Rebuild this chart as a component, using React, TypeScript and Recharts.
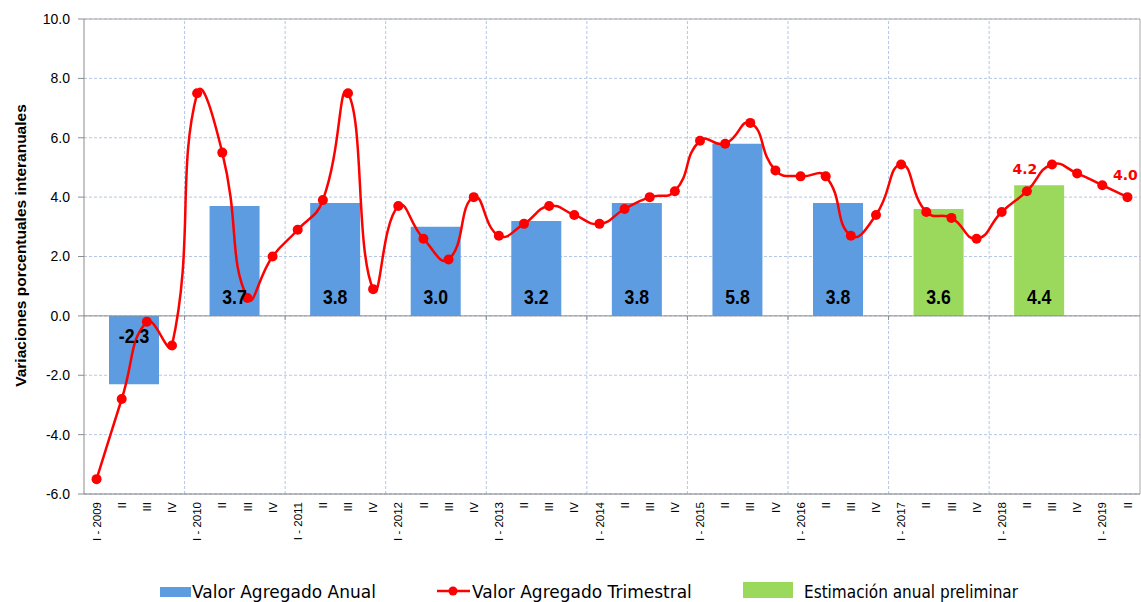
import {
  Bar,
  CartesianGrid,
  ComposedChart,
  LabelList,
  Line,
  ReferenceLine,
  XAxis,
  YAxis,
} from "recharts";

// Etiquetas del eje horizontal (un trimestre por posición)
const trimestres = [
  "I - 2009", "II", "III", "IV",
  "I - 2010", "II", "III", "IV",
  "I - 2011", "II", "III", "IV",
  "I - 2012", "II", "III", "IV",
  "I - 2013", "II", "III", "IV",
  "I - 2014", "II", "III", "IV",
  "I - 2015", "II", "III", "IV",
  "I - 2016", "II", "III", "IV",
  "I - 2017", "II", "III", "IV",
  "I - 2018", "II", "III", "IV",
  "I - 2019", "II",
];

// Valor Agregado Trimestral (variación interanual, %)
const variacionTrimestral = [
  -5.5, -2.8, -0.2, -1.0,
  7.5, 5.5, 0.6, 2.0,
  2.9, 3.9, 7.5, 0.9,
  3.7, 2.6, 1.9, 4.0,
  2.7, 3.1, 3.7, 3.4,
  3.1, 3.6, 4.0, 4.2,
  5.9, 5.8, 6.5, 4.9,
  4.7, 4.7, 2.7, 3.4,
  5.1, 3.5, 3.3, 2.6,
  3.5, 4.2, 5.1, 4.8,
  4.4, 4.0,
];

// trimestres con rótulo de valor en rojo
const trimestresRotulados = [37, 41];

const anios = [2009, 2010, 2011, 2012, 2013, 2014, 2015, 2016, 2017, 2018];
const valorAnual = [-2.3, 3.7, 3.8, 3.0, 3.2, 3.8, 5.8, 3.8, null, null];
const estimacionPreliminar = [null, null, null, null, null, null, null, null, 3.6, 4.4];

const yTicks = [-6, -4, -2, 0, 2, 4, 6, 8, 10];

const AZUL = "#5D9CE0";
const VERDE = "#9AD95B";
const ROJO = "#FF0000";
const GRILLA = "#B4C7E7";

// posición del centro de cada año en unidades de trimestre
const centroAnio = (k: number) => 4 * k + 1.5;
const limitesAnio = anios.map((_, k) => 4 * k - 0.5).filter((v) => v > 0);

const filas = [
  ...trimestres.map((t, i) => ({
    orden: i,
    pos: i,
    trimestral: variacionTrimestral[i],
    rotulo: trimestresRotulados.includes(i) ? variacionTrimestral[i] : null,
  })),
  ...anios.map((a, k) => ({
    orden: centroAnio(k),
    posAnio: centroAnio(k),
    anio: a,
    anual: valorAnual[k],
    preliminar: estimacionPreliminar[k],
  })),
].sort((a, b) => a.orden - b.orden);

// suavizado tipo Excel: Bezier con tangentes proporcionales a las cuerdas
function curvaSuave(context: any) {
  let xs: number[] = [];
  let ys: number[] = [];
  const s = 0.5;
  const dist = (a: number, b: number) => Math.hypot(xs[b] - xs[a], ys[b] - ys[a]);
  return {
    areaStart() {},
    areaEnd() {},
    lineStart() {
      xs = [];
      ys = [];
    },
    lineEnd() {
      const n = xs.length;
      if (!n) return;
      context.moveTo(xs[0], ys[0]);
      for (let i = 0; i < n - 1; i++) {
        const i0 = Math.max(i - 1, 0);
        const i3 = Math.min(i + 2, n - 1);
        const d01 = dist(i0, i);
        const d12 = dist(i, i + 1);
        const d23 = dist(i + 1, i3);
        const f1 = d01 + d12 > 0 ? (s * d12) / (d01 + d12) : 0;
        const f2 = d12 + d23 > 0 ? (s * d12) / (d12 + d23) : 0;
        context.bezierCurveTo(
          xs[i] + f1 * (xs[i + 1] - xs[i0]),
          ys[i] + f1 * (ys[i + 1] - ys[i0]),
          xs[i + 1] - f2 * (xs[i3] - xs[i]),
          ys[i + 1] - f2 * (ys[i3] - ys[i]),
          xs[i + 1],
          ys[i + 1]
        );
      }
    },
    point(x: number, y: number) {
      xs.push(+x);
      ys.push(+y);
    },
  };
}

function TickTrimestre({ x, y, payload }: any) {
  return (
    <text
      x={x}
      y={y}
      transform={`rotate(-90 ${x} ${y})`}
      textAnchor="end"
      dy="0.36em"
      fontSize={11.5}
      fontFamily="'Liberation Sans', Arial, sans-serif"
      fill="#000"
    >
      {trimestres[payload.value]}
    </text>
  );
}

function EtiquetaBarra(p: any) {
  const value = p.value;
  if (value == null) return null;
  const vb = p.viewBox && typeof p.viewBox.x === "number" ? p.viewBox : p;
  const top = Math.min(vb.y, vb.y + vb.height);
  const bottom = Math.max(vb.y, vb.y + vb.height);
  const cx = vb.x + vb.width / 2;
  const yTexto = value >= 0 ? bottom - 12 : top + 27;
  return (
    <text
      transform={`translate(${cx} ${yTexto}) scale(0.84 1)`}
      textAnchor="middle"
      fontSize={21}
      fontWeight="bold"
      fontFamily="'Liberation Sans', Arial, sans-serif"
      fill="#000"
    >
      {Number(value).toFixed(1)}
    </text>
  );
}

function EtiquetaLinea(p: any) {
  const value = p.value;
  if (value == null) return null;
  const vb = p.viewBox && typeof p.viewBox.x === "number" ? p.viewBox : p;
  return (
    <text
      x={vb.x - 2}
      y={vb.y - 17}
      textAnchor="middle"
      fontSize={14}
      fontWeight="bold"
      fontFamily="'DejaVu Sans', Verdana, sans-serif"
      fill={ROJO}
    >
      {Number(value).toFixed(1)}
    </text>
  );
}

function TituloEje(p: any) {
  const vb = p.viewBox;
  const cx = vb.x + 26;
  const cy = vb.y + vb.height / 2 - 11;
  return (
    <text
      x={cx}
      y={cy}
      transform={`rotate(-90 ${cx} ${cy})`}
      textAnchor="middle"
      fontSize={15.5}
      fontWeight="bold"
      fontFamily="'Liberation Sans', Arial, sans-serif"
      fill="#000"
    >
      Variaciones porcentuales interanuales
    </text>
  );
}

function Leyenda() {
  const texto = { fontSize: 17, fontFamily: "'DejaVu Sans', Verdana, sans-serif", fill: "#000" };
  return (
    <svg width={1141} height={37} style={{ position: "absolute", left: 0, top: 565 }}>
      <rect x={160} y={22} width={31} height={10} fill={AZUL} />
      <text x={192} y={32.7} {...texto}>Valor Agregado Anual</text>
      <line x1={437} x2={470} y1={26} y2={26} stroke={ROJO} strokeWidth={2.5} />
      <circle cx={453} cy={26} r={4.5} fill={ROJO} />
      <text x={472} y={32.7} {...texto}>Valor Agregado Trimestral</text>
      <rect x={743} y={17} width={50} height={16} fill={VERDE} />
      <text x={804} y={32.7} {...texto} fontFamily="'DejaVu Sans Condensed', 'DejaVu Sans', sans-serif">
        Estimación anual preliminar
      </text>
    </svg>
  );
}

export default function App() {
  return (
    <div style={{ position: "absolute", left: 0, top: 0, width: 1141, height: 602, background: "#fff" }}>
      <ComposedChart
        width={1141}
        height={560}
        data={filas}
        margin={{ top: 19, right: 1, left: 0, bottom: 0 }}
      >
        <CartesianGrid vertical={false} stroke={GRILLA} strokeDasharray="3 2" />
        <XAxis
          dataKey="pos"
          type="number"
          domain={[-0.5, 41.5]}
          ticks={trimestres.map((_, i) => i)}
          interval={0}
          tick={<TickTrimestre />}
          tickLine={false}
          axisLine={{ stroke: "#7F7F7F" }}
          height={66}
        />
        <XAxis
          xAxisId="anio"
          dataKey="posAnio"
          type="number"
          domain={[-0.5, 41.5]}
          ticks={anios.map((_, k) => centroAnio(k))}
          hide
        />
        <YAxis
          type="number"
          domain={[-6, 10]}
          ticks={yTicks}
          interval={0}
          width={84}
          tickFormatter={(v: number) => v.toFixed(1)}
          tick={{ fill: "#000", fontSize: 14, fontFamily: "'Liberation Sans', Arial, sans-serif" }}
          tickSize={6}
          tickMargin={8}
          axisLine={{ stroke: "#8C8C8C" }}
          tickLine={{ stroke: "#8C8C8C" }}
          label={<TituloEje />}
        />
        {limitesAnio.map((b) => (
          <ReferenceLine key={`g${b}`} x={b} stroke={GRILLA} strokeDasharray="3 2" />
        ))}
        <ReferenceLine y={10} stroke="#A6A6A6" />
        <ReferenceLine x={41.5} stroke="#A6A6A6" />
        <ReferenceLine y={0} stroke="#8C8C8C" />
        {limitesAnio.map((b) => (
          <ReferenceLine
            key={`t${b}`}
            segment={[{ x: b, y: 0 }, { x: b, y: -0.14 }]}
            stroke="#8C8C8C"
          />
        ))}
        <Bar xAxisId="anio" dataKey="anual" stackId="a" barSize={50} fill={AZUL} isAnimationActive={false}>
          <LabelList dataKey="anual" content={<EtiquetaBarra />} />
        </Bar>
        <Bar xAxisId="anio" dataKey="preliminar" stackId="a" barSize={50} fill={VERDE} isAnimationActive={false}>
          <LabelList dataKey="preliminar" content={<EtiquetaBarra />} />
        </Bar>
        <Line
          dataKey="trimestral"
          type={curvaSuave as any}
          stroke={ROJO}
          strokeWidth={2.5}
          connectNulls
          dot={{ r: 5, fill: ROJO, stroke: ROJO, strokeWidth: 0 }}
          activeDot={false}
          isAnimationActive={false}
        >
          <LabelList dataKey="rotulo" content={<EtiquetaLinea />} />
        </Line>
      </ComposedChart>
      <Leyenda />
    </div>
  );
}
